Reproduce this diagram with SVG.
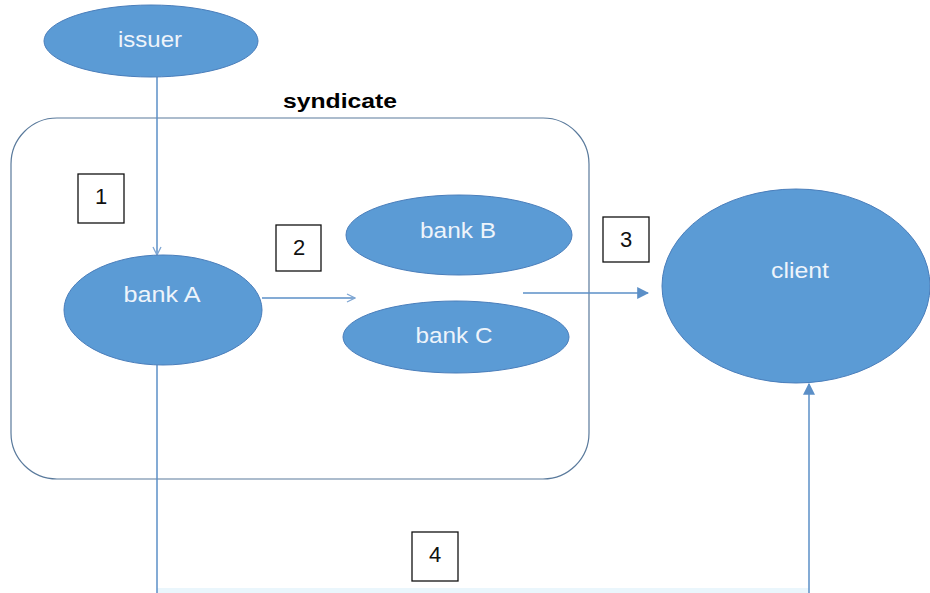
<svg xmlns="http://www.w3.org/2000/svg" width="930" height="593" viewBox="0 0 930 593">
<style>
.node{fill:#5B9BD5;stroke:#4A7EBB;stroke-width:1}
.lbl{font-family:"Liberation Sans",Arial,sans-serif;font-size:22px;fill:#EEF4FB;text-anchor:middle}
.num{font-family:"Liberation Sans",Arial,sans-serif;font-size:22px;fill:#111;text-anchor:middle}
.box{fill:#fff;stroke:#111;stroke-width:1.3}
.edge{fill:none;stroke:#5B8FC7;stroke-width:1.5}
</style>
<defs>
<marker id="open" viewBox="0 0 10 10" refX="9" refY="5" markerWidth="10" markerHeight="10" markerUnits="userSpaceOnUse" orient="auto">
<path d="M1,1 L9,5 L1,9" fill="none" stroke="#7FA6D3" stroke-width="1.3"/>
</marker>
<marker id="fill" viewBox="0 0 10 10" refX="9" refY="5" markerWidth="12" markerHeight="12" markerUnits="userSpaceOnUse" orient="auto">
<path d="M0,0 L10,5 L0,10 Z" fill="#5B8FC7"/>
</marker>
</defs>
<rect width="930" height="593" fill="#fff"/>
<rect x="157" y="588" width="652" height="5" fill="#EAF6FC"/>
<g id="syndicate">
<rect x="11" y="118" width="578" height="361" rx="46" ry="46" fill="none" stroke="#5A7A9C" stroke-width="1.2"/>
<text x="340" y="108" font-family="'Liberation Sans',Arial,sans-serif" font-size="20" font-weight="bold" fill="#000" text-anchor="middle" textLength="114" lengthAdjust="spacingAndGlyphs">syndicate</text>
</g>
<g id="connectors">
<path class="edge" d="M157,77 L157,255" marker-end="url(#open)"/>
<path class="edge" d="M262,298 L355,298" marker-end="url(#open)"/>
<path class="edge" d="M523,293 L648,293" marker-end="url(#fill)"/>
<path class="edge" d="M157,365 L157,593"/>
<path class="edge" d="M809,593 L809,384" marker-end="url(#fill)"/>
</g>
<g id="issuer">
<ellipse class="node" cx="151" cy="41" rx="107" ry="36"/>
<text class="lbl" x="150" y="47" textLength="64" lengthAdjust="spacingAndGlyphs">issuer</text>
</g>
<g id="bankA">
<ellipse class="node" cx="163" cy="310" rx="99" ry="55"/>
<text class="lbl" x="162" y="302" textLength="77" lengthAdjust="spacingAndGlyphs">bank A</text>
</g>
<g id="bankB">
<ellipse class="node" cx="459" cy="235" rx="113" ry="40"/>
<text class="lbl" x="458" y="238" textLength="76" lengthAdjust="spacingAndGlyphs">bank B</text>
</g>
<g id="bankC">
<ellipse class="node" cx="456" cy="337" rx="113" ry="36"/>
<text class="lbl" x="454" y="343" textLength="77" lengthAdjust="spacingAndGlyphs">bank C</text>
</g>
<g id="client">
<ellipse class="node" cx="796" cy="286" rx="134" ry="97"/>
<text class="lbl" x="800" y="278" textLength="58" lengthAdjust="spacingAndGlyphs">client</text>
</g>
<g id="label1"><rect class="box" x="78" y="174" width="46" height="49"/><text class="num" x="101" y="204">1</text></g>
<g id="label2"><rect class="box" x="276" y="225" width="45" height="46"/><text class="num" x="299" y="255">2</text></g>
<g id="label3"><rect class="box" x="603" y="217" width="46" height="45"/><text class="num" x="626" y="247">3</text></g>
<g id="label4"><rect class="box" x="412" y="532" width="46" height="49"/><text class="num" x="435" y="562">4</text></g>
</svg>
